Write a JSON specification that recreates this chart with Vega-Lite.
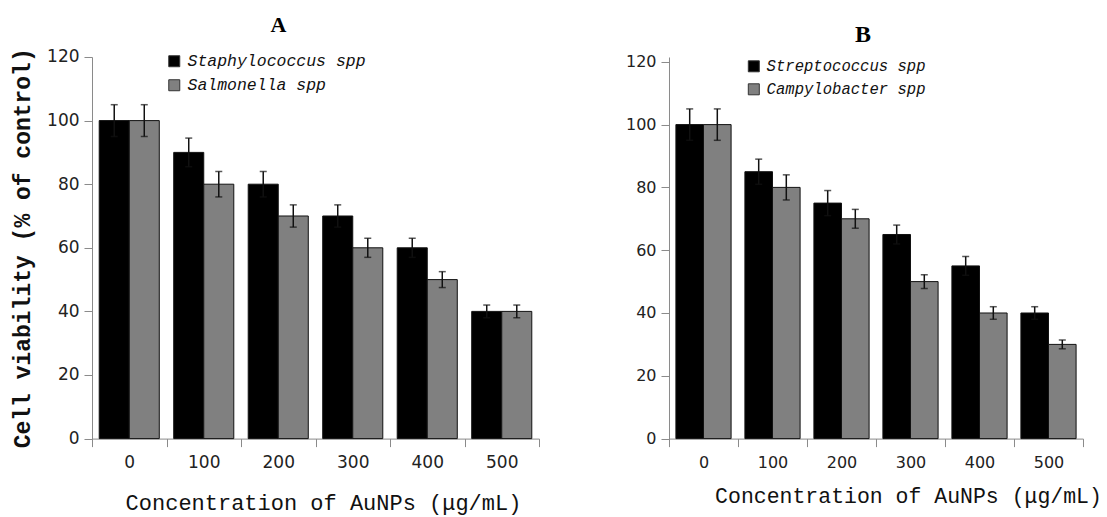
{
  "$schema": "https://vega.github.io/schema/vega-lite/v6.json",
  "background": "white",
  "padding": {"left": 11, "top": 13, "right": 0, "bottom": 20},
  "spacing": 85,
  "config": {
    "view": {"stroke": null},
    "axis": {"grid": false, "domainColor": "#8a8a8a", "tickColor": "#8a8a8a", "labelColor": "#222222", "labelFont": "DejaVu Sans", "tickSize": 8},
    "legend": {"orient": "none", "padding": 0, "title": null, "symbolType": "square", "symbolStrokeColor": "#333333", "symbolStrokeWidth": 1, "labelFont": "Liberation Mono", "labelFontStyle": "italic", "labelColor": "#111111", "labelOffset": 5, "labelLimit": 0}
  },
  "resolve": {"scale": {"color": "independent", "xOffset": "independent", "x": "independent", "y": "independent"}},
  "hconcat": [
    {
      "width": 447,
      "height": 381.6,
      "title": {"text": "A", "font": "Liberation Serif", "fontSize": 22, "fontWeight": "bold", "color": "#000000", "anchor": "middle", "frame": "group", "baseline": "alphabetic", "offset": -6, "dx": -37},
      "data": {"values": [
        {"conc": "0", "series": "Staphylococcus spp", "value": 100, "lo": 95, "hi": 105},
        {"conc": "0", "series": "Salmonella spp", "value": 100, "lo": 95, "hi": 105},
        {"conc": "100", "series": "Staphylococcus spp", "value": 90, "lo": 85.5, "hi": 94.5},
        {"conc": "100", "series": "Salmonella spp", "value": 80, "lo": 76, "hi": 84},
        {"conc": "200", "series": "Staphylococcus spp", "value": 80, "lo": 76, "hi": 84},
        {"conc": "200", "series": "Salmonella spp", "value": 70, "lo": 66.5, "hi": 73.5},
        {"conc": "300", "series": "Staphylococcus spp", "value": 70, "lo": 66.5, "hi": 73.5},
        {"conc": "300", "series": "Salmonella spp", "value": 60, "lo": 57, "hi": 63},
        {"conc": "400", "series": "Staphylococcus spp", "value": 60, "lo": 57, "hi": 63},
        {"conc": "400", "series": "Salmonella spp", "value": 50, "lo": 47.5, "hi": 52.5},
        {"conc": "500", "series": "Staphylococcus spp", "value": 40, "lo": 38, "hi": 42},
        {"conc": "500", "series": "Salmonella spp", "value": 40, "lo": 38, "hi": 42}
      ]},
      "encoding": {
        "x": {"field": "conc", "type": "nominal", "sort": ["0", "100", "200", "300", "400", "500"], "scale": {"paddingInner": 0, "paddingOuter": 0},
          "title": "Concentration of AuNPs (μg/mL)",
          "axis": {"tickBand": "extent", "labelAngle": 0, "labelFontSize": 17, "labelPadding": 8, "titleFont": "Liberation Mono", "titleFontSize": 22, "titleFontWeight": "normal", "titleColor": "#111111", "titleX": 231, "titleY": 71, "titleAlign": "center", "titleBaseline": "alphabetic"}},
        "xOffset": {"field": "series", "type": "nominal", "sort": ["Staphylococcus spp", "Salmonella spp"], "scale": {"paddingInner": 0, "paddingOuter": 0.24}}
      },
      "layer": [
        {
          "mark": {"type": "bar", "stroke": "#111111", "strokeWidth": 1},
          "encoding": {
            "y": {"field": "value", "type": "quantitative", "title": "Cell viability (% of control)", "scale": {"domain": [0, 120], "nice": false},
              "axis": {"values": [0, 20, 40, 60, 80, 100, 120], "labelFontSize": 17, "labelPadding": 5, "titleFont": "Liberation Mono", "titleFontSize": 23, "titleFontWeight": "bold", "titleColor": "#111111", "titlePadding": 12}},
            "color": {"field": "series", "type": "nominal", "sort": ["Staphylococcus spp", "Salmonella spp"], "scale": {"domain": ["Staphylococcus spp", "Salmonella spp"], "range": ["#000000", "#808080"]},
              "legend": {"legendX": 74, "legendY": -4, "symbolSize": 121, "labelFontSize": 16.5, "rowPadding": 7}}
          }
        },
        {
          "mark": {"type": "rule", "color": "#111111", "strokeWidth": 1.5},
          "encoding": {"y": {"field": "lo", "type": "quantitative", "title": "Cell viability (% of control)"}, "y2": {"field": "hi"}}
        },
        {
          "mark": {"type": "tick", "color": "#111111", "thickness": 1.5, "size": 7},
          "encoding": {"y": {"field": "hi", "type": "quantitative", "title": "Cell viability (% of control)"}}
        },
        {
          "mark": {"type": "tick", "color": "#111111", "thickness": 1.5, "size": 7},
          "encoding": {"y": {"field": "lo", "type": "quantitative", "title": "Cell viability (% of control)"}}
        }
      ]
    },
    {
      "width": 414,
      "height": 381.6,
      "title": {"text": "B", "font": "Liberation Serif", "fontSize": 24, "fontWeight": "bold", "color": "#000000", "anchor": "middle", "frame": "group", "baseline": "alphabetic", "offset": -12.3, "dx": -13},
      "data": {"values": [
        {"conc": "0", "series": "Streptococcus spp", "value": 100, "lo": 95, "hi": 105},
        {"conc": "0", "series": "Campylobacter spp", "value": 100, "lo": 95, "hi": 105},
        {"conc": "100", "series": "Streptococcus spp", "value": 85, "lo": 81, "hi": 89},
        {"conc": "100", "series": "Campylobacter spp", "value": 80, "lo": 76, "hi": 84},
        {"conc": "200", "series": "Streptococcus spp", "value": 75, "lo": 71, "hi": 79},
        {"conc": "200", "series": "Campylobacter spp", "value": 70, "lo": 67, "hi": 73},
        {"conc": "300", "series": "Streptococcus spp", "value": 65, "lo": 62, "hi": 68},
        {"conc": "300", "series": "Campylobacter spp", "value": 50, "lo": 47.8, "hi": 52.2},
        {"conc": "400", "series": "Streptococcus spp", "value": 55, "lo": 52, "hi": 58},
        {"conc": "400", "series": "Campylobacter spp", "value": 40, "lo": 38, "hi": 42},
        {"conc": "500", "series": "Streptococcus spp", "value": 40, "lo": 38, "hi": 42},
        {"conc": "500", "series": "Campylobacter spp", "value": 30, "lo": 28.6, "hi": 31.4}
      ]},
      "encoding": {
        "x": {"field": "conc", "type": "nominal", "sort": ["0", "100", "200", "300", "400", "500"], "scale": {"paddingInner": 0, "paddingOuter": 0},
          "title": "Concentration of AuNPs (μg/mL)",
          "axis": {"tickBand": "extent", "labelAngle": 0, "labelFontSize": 16, "labelPadding": 8, "titleFont": "Liberation Mono", "titleFontSize": 21.5, "titleFontWeight": "normal", "titleColor": "#111111", "titleX": 239, "titleY": 64, "titleAlign": "center", "titleBaseline": "alphabetic"}},
        "xOffset": {"field": "series", "type": "nominal", "sort": ["Streptococcus spp", "Campylobacter spp"], "scale": {"paddingInner": 0, "paddingOuter": 0.25}}
      },
      "layer": [
        {
          "mark": {"type": "bar", "stroke": "#111111", "strokeWidth": 1},
          "encoding": {
            "y": {"field": "value", "type": "quantitative", "title": null, "scale": {"domain": [0, 121.53], "nice": false},
              "axis": {"values": [0, 20, 40, 60, 80, 100, 120], "labelFontSize": 16, "labelPadding": 5}},
            "color": {"field": "series", "type": "nominal", "sort": ["Streptococcus spp", "Campylobacter spp"], "scale": {"domain": ["Streptococcus spp", "Campylobacter spp"], "range": ["#000000", "#808080"]},
              "legend": {"legendX": 77, "legendY": 1.5, "symbolSize": 121, "labelFontSize": 15.6, "rowPadding": 6}}
          }
        },
        {
          "mark": {"type": "rule", "color": "#111111", "strokeWidth": 1.5},
          "encoding": {"y": {"field": "lo", "type": "quantitative", "title": null}, "y2": {"field": "hi"}}
        },
        {
          "mark": {"type": "tick", "color": "#111111", "thickness": 1.5, "size": 7},
          "encoding": {"y": {"field": "hi", "type": "quantitative", "title": null}}
        },
        {
          "mark": {"type": "tick", "color": "#111111", "thickness": 1.5, "size": 7},
          "encoding": {"y": {"field": "lo", "type": "quantitative", "title": null}}
        }
      ]
    }
  ]
}
